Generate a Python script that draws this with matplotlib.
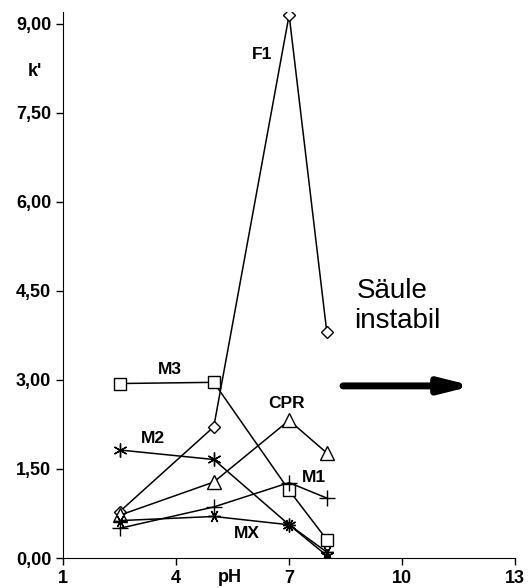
import matplotlib.pyplot as plt
from matplotlib.ticker import FuncFormatter

# pH values
ph = [2.5, 5, 7, 8]

# k' values per substance
f1 = [0.78, 2.21, 9.15, 3.81]
m3 = [2.94, 2.96, 1.14, 0.31]
m2 = [1.82, 1.66, 0.56, 0.04]
cpr = [0.72, 1.28, 2.32, 1.77]
m1 = [0.50, 0.86, 1.27, 1.01]
mx = [0.63, 0.70, 0.56, 0.10]

x_ticks = [1, 4, 7, 10, 13]
y_ticks = [0, 1.5, 3, 4.5, 6, 7.5, 9]

plt.rcParams['font.family'] = ['Liberation Sans', 'DejaVu Sans']

fig = plt.figure(figsize=(5.3, 5.88), dpi=100)
ax = fig.add_axes([0.119, 0.051, 0.853, 0.9286])

style = dict(color="black", lw=1.1, markerfacecolor="white",
             markeredgecolor="black", markeredgewidth=1.0)

ax.plot(ph, f1, marker="D", ms=6, **style)
ax.plot(ph, m3, marker="s", ms=8, **style)
ax.plot(ph, m2, marker=(6, 2, 0), ms=10, **style)
ax.plot(ph, cpr, marker="^", ms=10, **style)
ax.plot(ph, m1, marker="+", ms=11, **style)
ax.plot(ph, mx, marker=(6, 2, 90), ms=9, **style)

# series labels
lab = dict(fontsize=12.5, fontweight="bold", ha="center", va="center")
ax.text(6.28, 8.48, "F1", **lab)
ax.text(3.83, 3.18, "M3", **lab)
ax.text(3.39, 2.02, "M2", **lab)
ax.text(6.92, 2.60, "CPR", **lab)
ax.text(7.65, 1.35, "M1", **lab)
ax.text(5.87, 0.41, "MX", **lab)

# column unstable note
ax.text(9.73, 4.50, "Säule", fontsize=20, ha="center", va="center")
ax.text(9.87, 4.00, "instabil", fontsize=20, ha="center", va="center")
ax.annotate("", xy=(11.88, 2.90), xytext=(8.43, 2.90),
            arrowprops=dict(arrowstyle="-|>,head_length=1.8,head_width=0.45",
                            color="black", lw=5, shrinkA=0, shrinkB=0))

ax.set_xlim(1, 13)
ax.set_ylim(0, 9.2)
ax.set_xticks(x_ticks)
ax.set_yticks(y_ticks)
ax.yaxis.set_major_formatter(FuncFormatter(lambda v, p: f"{v:.2f}".replace(".", ",")))

ax.spines["top"].set_visible(False)
ax.spines["right"].set_visible(False)
ax.tick_params(direction="out", length=5, width=1, labelsize=13)
for t in ax.get_xticklabels() + ax.get_yticklabels():
    t.set_fontweight("bold")

fig.text(35 / 530, 1 - 72 / 588, "k'", fontsize=13, fontweight="bold",
         ha="center", va="center")
fig.text(230 / 530, 1 - 577 / 588, "pH", fontsize=13, fontweight="bold",
         ha="center", va="center")

fig.savefig("out.png", dpi=100)
